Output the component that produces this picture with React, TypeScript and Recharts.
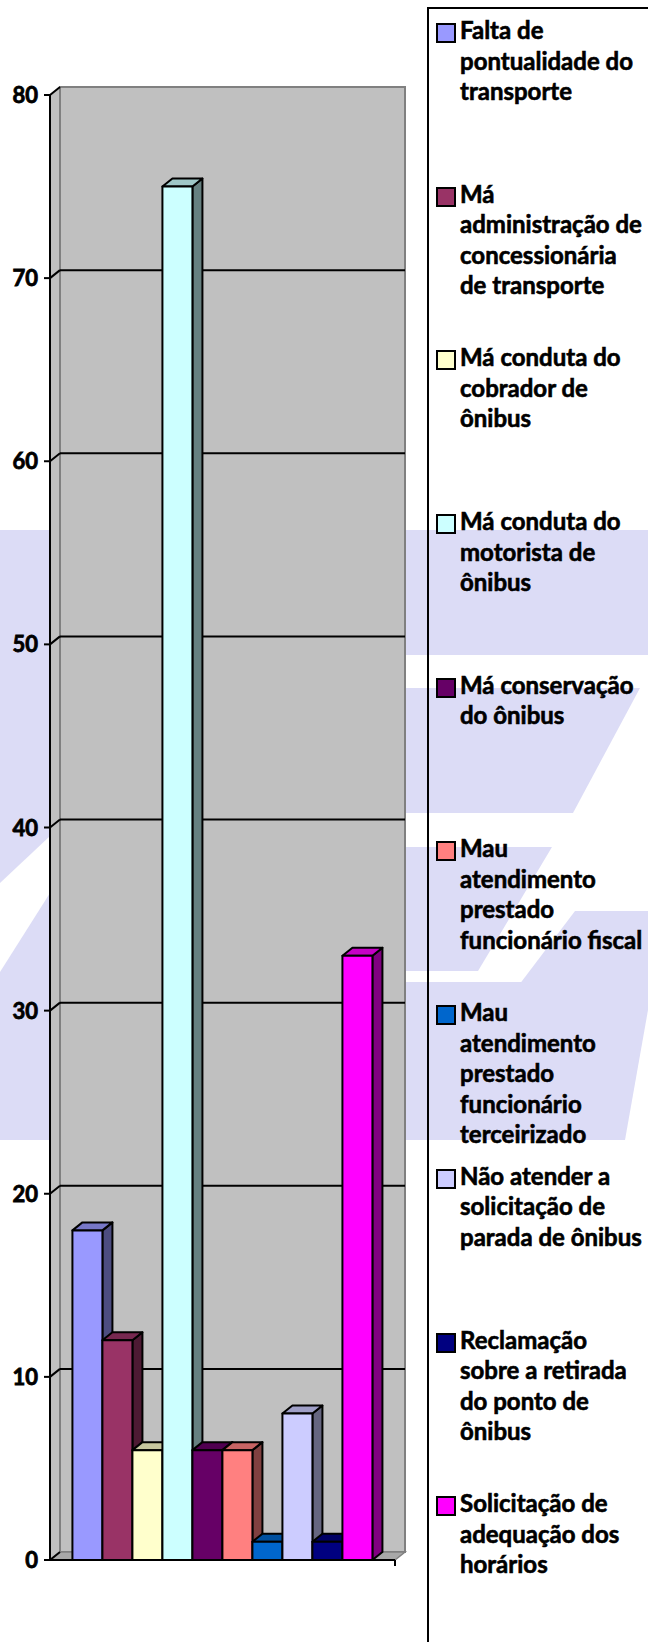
import React from 'react';
import { Bar, BarChart, CartesianGrid, XAxis, YAxis } from 'recharts';

const categories = [
  'Falta de\npontualidade do\ntransporte',
  'Má\nadministração de\nconcessionária\nde transporte',
  'Má conduta do\ncobrador de\nônibus',
  'Má conduta do\nmotorista de\nônibus',
  'Má conservação\ndo ônibus',
  'Mau\natendimento\nprestado\nfuncionário fiscal',
  'Mau\natendimento\nprestado\nfuncionário\nterceirizado',
  'Não atender a\nsolicitação de\nparada de ônibus',
  'Reclamação\nsobre a retirada\ndo ponto de\nônibus',
  'Solicitação de\nadequação dos\nhorários',
];
const counts = [18, 12, 6, 75, 6, 6, 1, 8, 1, 33];
const colors = ['#9999FF', '#993366', '#FFFFCC', '#CCFFFF', '#660066', '#FF8080', '#0066CC', '#CCCCFF', '#000080', '#FF00FF'];
const yTicks = [0, 10, 20, 30, 40, 50, 60, 70, 80];

const data = [Object.fromEntries([['name', ''], ...counts.map((v, i) => [`s${i}`, v])])];

const DX = 10;
const DY = 8;
const FONT = 'Lato, "Open Sans", sans-serif';

// plot frame (front edge) as set by margins below
const X0 = 50;
const X1 = 395;
const Y0 = 95;
const Y1 = 1560;

function shade(hex: string, f: number) {
  const n = parseInt(hex.slice(1), 16);
  const c = [(n >> 16) & 255, (n >> 8) & 255, n & 255].map((v) => Math.round(v * f));
  return `rgb(${c.join(',')})`;
}

function Bar3D(props: any) {
  const { x, y, width: w, height: h, fill } = props;
  if (h == null || w == null) return null;
  return (
    <g stroke="#000" strokeWidth={2} strokeLinejoin="round">
      <polygon points={`${x + w},${y} ${x + w + DX},${y - DY} ${x + w + DX},${y + h - DY} ${x + w},${y + h}`} fill={shade(fill, 0.5)} />
      <polygon points={`${x},${y} ${x + DX},${y - DY} ${x + w + DX},${y - DY} ${x + w},${y}`} fill={shade(fill, 0.78)} />
      <rect x={x} y={y} width={w} height={h} fill={fill} />
    </g>
  );
}

function GridLine(p: any) {
  const top = p.y1 <= p.y + 0.5;
  const bottom = p.y1 >= p.y + p.height - 0.5;
  return (
    <g key={p.key}>
      <line x1={p.x1} y1={p.y1} x2={p.x1 + DX} y2={p.y1 - DY} stroke="#000" strokeWidth={2} />
      {!top && !bottom && (
        <line x1={p.x1 + DX} y1={p.y1 - DY} x2={p.x2 + DX} y2={p.y2 - DY} stroke="#000" strokeWidth={2} />
      )}
    </g>
  );
}

function YTick(p: any) {
  return (
    <text
      x={p.x - 1}
      y={p.y}
      dy={8}
      textAnchor="end"
      fill="#000"
      stroke="#000"
      strokeWidth={0.8}
      fontSize={22}
      fontWeight={700}
      fontFamily={FONT}
    >
      {p.payload.value}
    </text>
  );
}

const watermark = [
  '0,530 648,530 648,655 0,655',
  '0,655 50,655 50,836 0,883',
  '0,972 50,893 50,982 0,982',
  '0,982 648,982 648,1010 625,1140 0,1140',
  '406,688 640,688 573,813 406,813',
  '406,847 552,847 478,971 406,971',
  '575,911 648,911 648,1010 500,1010',
];

function Background() {
  return (
    <svg width={648} height={1642} style={{ position: 'absolute', left: 0, top: 0 }}>
      {watermark.map((pts, i) => (
        <polygon key={i} points={pts} fill="#DCDCF6" />
      ))}
      {/* side wall */}
      <polygon points={`${X0},${Y0} ${X0 + DX},${Y0 - DY} ${X0 + DX},${Y1 - DY} ${X0},${Y1}`} fill="#C0C0C0" />
      {/* back wall */}
      <rect x={X0 + DX} y={Y0 - DY} width={X1 - X0} height={Y1 - Y0} fill="#C0C0C0" stroke="#808080" strokeWidth={2} />
      {/* floor */}
      <polygon points={`${X0},${Y1} ${X0 + DX},${Y1 - DY} ${X1 + DX},${Y1 - DY} ${X1},${Y1}`} fill="#A8A8A8" stroke="#808080" strokeWidth={1.5} />
      <line x1={X1} y1={Y1} x2={X1} y2={Y1 + 6} stroke="#000" strokeWidth={2} />
    </svg>
  );
}

function LegendBox() {
  return (
    <div
      style={{
        position: 'absolute',
        left: 427,
        top: 7,
        width: 260,
        height: 1700,
        borderLeft: '2px solid #000',
        borderTop: '2px solid #000',
        fontFamily: FONT,
        fontWeight: 700,
        fontSize: 24,
        lineHeight: '30.5px',
        color: '#000',
        WebkitTextStroke: '0.6px #000',
      }}
    >
      {categories.map((label, i) => (
        <div key={i} style={{ position: 'relative', height: 163.7, paddingTop: 6, boxSizing: 'border-box' }}>
          <div
            style={{
              position: 'absolute',
              left: 7,
              top: 14,
              width: 16,
              height: 16,
              border: '2px solid #000',
              background: colors[i],
            }}
          />
          <div style={{ marginLeft: 31, whiteSpace: 'pre-line' }}>{label}</div>
        </div>
      ))}
    </div>
  );
}

export default function App() {
  return (
    <div style={{ position: 'absolute', left: 0, top: 0, width: 648, height: 1642, background: '#fff', overflow: 'hidden' }}>
      <Background />
      <div style={{ position: 'absolute', left: 0, top: 0 }}>
        <BarChart
          width={420}
          height={1642}
          data={data}
          margin={{ top: Y0, right: 420 - X1, bottom: 1642 - Y1 - 2, left: 0 }}
          barCategoryGap="6.5%"
          barGap={0}
        >
          <CartesianGrid vertical={false} horizontal={GridLine} />
          <XAxis dataKey="name" height={2} tick={false} tickLine={false} axisLine={{ stroke: '#000', strokeWidth: 2 }} />
          <YAxis
            width={X0}
            domain={[0, 80]}
            ticks={yTicks}
            interval={0}
            tickSize={6}
            tickMargin={5}
            axisLine={{ stroke: '#000', strokeWidth: 2 }}
            tickLine={{ stroke: '#000', strokeWidth: 2 }}
            tick={YTick}
          />
          {counts.map((_, i) => (
            <Bar
              key={i}
              dataKey={`s${i}`}
              name={categories[i]}
              fill={colors[i]}
              isAnimationActive={false}
              shape={(p: any) => <Bar3D {...p} />}
            />
          ))}
        </BarChart>
      </div>
      <LegendBox />
    </div>
  );
}
